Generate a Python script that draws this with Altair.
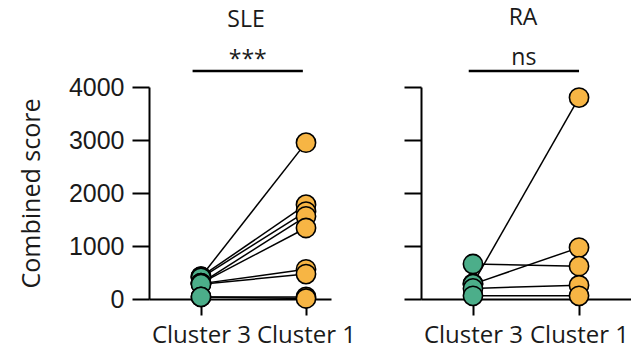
import altair as alt
import pandas as pd

# ---- data -------------------------------------------------------------
groups = ["SLE", "RA"]
categories = ["Cluster 3", "Cluster 1"]
sle_c3 = [420, 420, 400, 300, 300, 290, 280, 40, 40]
sle_c1 = [2950, 1780, 1650, 1560, 1340, 560, 470, 40, 10]
ra_c3 = [660, 290, 280, 200, 60]
ra_c1 = [620, 3800, 970, 260, 60]
sig_labels = ["***", "ns"]
y_ticks = [0, 1000, 2000, 3000, 4000]

GREEN = "#4cae8a"
ORANGE = "#f7b544"
FONT = "Open Sans"


def long_df(c3, c1):
    rows = []
    for i, (a, b) in enumerate(zip(c3, c1)):
        rows.append({"pair": i, "xi": 0, "cluster": categories[0], "value": a})
        rows.append({"pair": i, "xi": 1, "cluster": categories[1], "value": b})
    df = pd.DataFrame(rows)
    # lower points drawn last (on top)
    return df.sort_values(["xi", "value"], ascending=[True, False]).reset_index(drop=True)


label_expr = f"datum.value == 0 ? '{categories[0]}' : '{categories[1]}'"


def panel(name, c3, c1, sig, xdomain, width, bar, title_dx, first):
    df = long_df(c3, c1)
    xenc = alt.X(
        "xi:Q",
        scale=alt.Scale(domain=xdomain, nice=False, zero=False),
        axis=alt.Axis(values=[0, 1], labelExpr=label_expr, title=None, grid=False,
                      domainWidth=2, tickWidth=2, tickSize=16, domainColor="black",
                      tickColor="black", labelFont=FONT, labelFontSize=24,
                      labelColor="#1a1a1a", labelPadding=8),
    )
    yenc = alt.Y(
        "value:Q",
        scale=alt.Scale(domain=[0, 4000], nice=False, zero=True),
        axis=alt.Axis(values=y_ticks, format="d", grid=False, domainWidth=2, tickWidth=2,
                      tickSize=17, domainColor="black", tickColor="black",
                      labels=first, labelFont="Liberation Sans", labelFontSize=25,
                      labelColor="#1a1a1a", labelPadding=8,
                      title="Combined score" if first else None,
                      titleFont=FONT, titleFontSize=25, titleFontWeight="normal",
                      titleColor="#1a1a1a", titlePadding=24),
    )
    base = alt.Chart(df)
    lines = base.mark_line(color="black", strokeWidth=1.5).encode(
        x=xenc, y=yenc, detail="pair:N")
    pts = base.mark_circle(size=370, opacity=1, stroke="black", strokeWidth=1.6).encode(
        x="xi:Q", y="value:Q",
        color=alt.Color("cluster:N", scale=alt.Scale(domain=categories, range=[GREEN, ORANGE]),
                        legend=None),
    )
    sdf = pd.DataFrame([{"x0": bar[0], "x1": bar[1], "ybar": bar[2],
                         "xm": (bar[0] + bar[1]) / 2, "yt": bar[3], "label": sig}])
    rule = alt.Chart(sdf).mark_rule(color="black", strokeWidth=2.5).encode(
        x="x0:Q", x2="x1", y="ybar:Q")
    txt = alt.Chart(sdf).mark_text(font=FONT, fontSize=23, color="#1a1a1a",
                                   baseline="alphabetic").encode(
        x="xm:Q", y="yt:Q", text="label:N")
    return alt.layer(lines, pts, rule, txt).properties(
        width=width, height=212,
        title=alt.TitleParams(name, font=FONT, fontSize=23, fontWeight="normal",
                              color="#1a1a1a", anchor="middle", frame="group",
                              dx=title_dx, offset=17),
    )


left = panel(groups[0], sle_c3, sle_c1, sig_labels[0], [-0.495, 1.238], 182,
             (-0.08, 0.97, 4300, 4380), 6, True)
right = panel(groups[1], ra_c3, ra_c1, sig_labels[1], [-0.49, 1.49], 210,
              (-0.04, 1.0, 4300, 4420), -3, False)

chart = alt.hconcat(left, right, spacing=90, bounds="flush").configure_view(
    stroke=None).properties(padding={"left": 19, "top": 6, "right": 0, "bottom": 6})

chart.save("out.html", embed_options={"renderer": "svg", "actions": False})
